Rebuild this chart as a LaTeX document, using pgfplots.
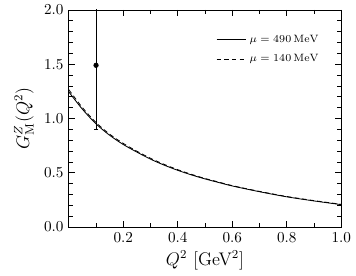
\documentclass[border=0pt]{standalone}
\usepackage{pgfplots}
\pgfplotsset{compat=1.18}
\begin{document}
\begin{tikzpicture}
\begin{axis}[
  scale only axis,
  width=179.5pt, height=143pt,
  xmin=0, xmax=1, ymin=0, ymax=2,
  xtick={0.2,0.4,0.6,0.8,1.0},
  minor xtick={0.1,0.3,0.5,0.7,0.9},
  ytick={0,0.5,1,1.5,2},
  minor y tick num=4,
  tick align=inside,
  major tick length=4pt, minor tick length=2.5pt,
  tick style={black, line width=0.4pt},
  xticklabel style={/pgf/number format/.cd,fixed,fixed zerofill,precision=1},
  yticklabel style={/pgf/number format/.cd,fixed,fixed zerofill,precision=1},
  xlabel={$Q^2$ [GeV$^2$]},
  ylabel={$G_{\mathrm{M}}^{Z}(Q^2)$},
  label style={font=\large},
  xlabel style={yshift=1pt},
  legend style={draw=none, fill=none, inner sep=0pt, at={(0.93,0.90)}, anchor=north east, row sep=2.5pt, font=\scriptsize},
  legend cell align=left,
  legend image code/.code={\draw[#1] (0cm,0cm) -- (0.68cm,0cm);},
]
\addplot[black, line width=0.55pt, smooth] coordinates {
(0,1.245) (0.05,1.085) (0.1,0.95) (0.15,0.845) (0.2,0.76) (0.25,0.69) (0.3,0.625)
(0.35,0.57) (0.4,0.522) (0.45,0.48) (0.5,0.443) (0.55,0.41) (0.6,0.378)
(0.7,0.325) (0.8,0.278) (0.9,0.24) (1.0,0.206)};
\addlegendentry{$\mu = 490\,\mathrm{MeV}$}
\addplot[black, line width=0.55pt, dash pattern=on 3pt off 2pt, smooth] coordinates {
(0,1.265) (0.05,1.1) (0.1,0.962) (0.15,0.855) (0.2,0.77) (0.25,0.698) (0.3,0.633)
(0.35,0.577) (0.4,0.528) (0.45,0.485) (0.5,0.447) (0.55,0.414) (0.6,0.381)
(0.7,0.328) (0.8,0.281) (0.9,0.243) (1.0,0.209)};
\addlegendentry{$\mu = 140\,\mathrm{MeV}$}
\addplot[black, only marks, mark=*, mark size=1.5pt,
  error bars/.cd, y dir=both, y explicit, error mark options={rotate=90, mark size=1.5pt, black}, error bar style={line width=0.4pt}]
  coordinates {(0.1,1.49) +- (0,0.593)};
\end{axis}
\path ([xshift=-6pt]current bounding box.west);
\end{tikzpicture}
\end{document}
